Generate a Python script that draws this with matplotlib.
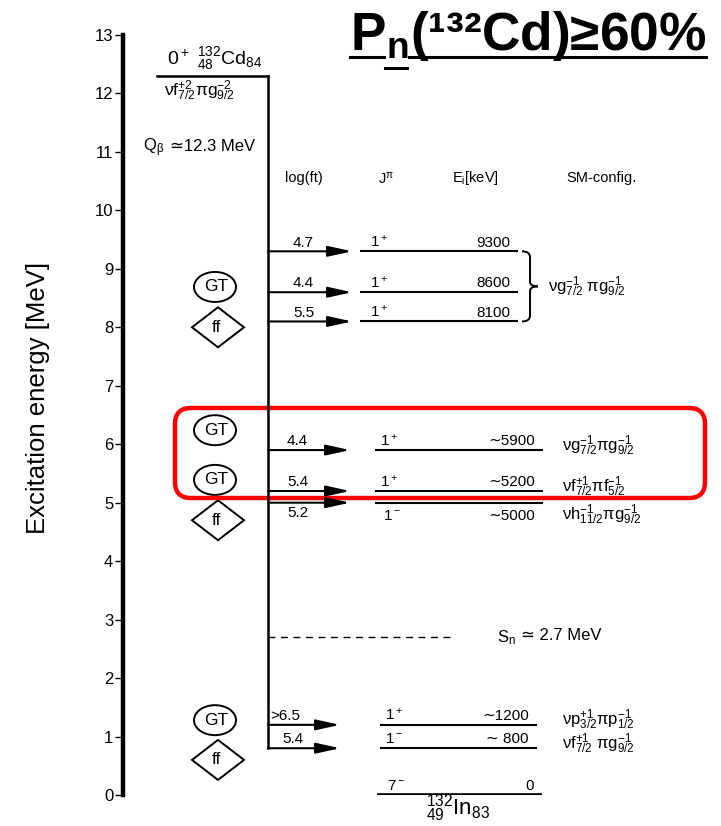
import matplotlib.pyplot as plt
from matplotlib.patches import Ellipse, Polygon, FancyBboxPatch, PathPatch
from matplotlib.path import Path
from matplotlib.lines import Line2D

plt.rcParams['font.family'] = ['Liberation Sans', 'DejaVu Sans']
plt.rcParams['mathtext.fontset'] = 'custom'
plt.rcParams['mathtext.rm'] = 'Liberation Sans'
plt.rcParams['mathtext.default'] = 'regular'

# 132Cd -> 132In beta decay
q_beta = 12.3   # MeV
s_n = 2.7       # MeV
level_kev = [9300, 8600, 8100, 5900, 5200, 5000, 1200, 800, 0]
approx = [False, False, False, True, True, True, True, True, False]
spin = ['1$^+$', '1$^+$', '1$^+$', '1$^+$', '1$^+$', '1$^-$', '1$^+$', '1$^-$', '7$^-$']
log_ft = ['4.7', '4.4', '5.5', '4.4', '5.4', '5.2', '>6.5', '5.4', None]
sm_config = [None, None, None,
             'νg$_{7/2}^{-1}$πg$_{9/2}^{-1}$',
             'νf$_{7/2}^{+1}$πf$_{5/2}^{-1}$',
             'νh$_{11/2}^{-1}$πg$_{9/2}^{-1}$',
             'νp$_{3/2}^{+1}$πp$_{1/2}^{-1}$',
             'νf$_{7/2}^{+1}$ πg$_{9/2}^{-1}$',
             None]
group_config = 'νg$_{7/2}^{-1}$ πg$_{9/2}^{-1}$'   # shared by the three top levels
parent_config = 'νf$_{7/2}^{+2}$πg$_{9/2}^{-2}$'
yticks = list(range(0, 14))

# transition type badges (kind, energy in MeV)
badges = [('GT', 8.69), ('ff', 8.0), ('GT', 6.24), ('GT', 5.39), ('ff', 4.70),
          ('GT', 1.28), ('ff', 0.60)]

# layout per level: arrow tip, level line start/end, spin x, label side
x_feed = 268
tip = [352, 352, 352, 350, 350, 350, 340, 340, None]
lx0 = [360, 360, 360, 375, 375, 375, 380, 380, 377]
lx1 = [518, 518, 518, 543, 543, 543, 537, 537, 542]
spin_x = [370, 370, 370, 380, 380, 383, 385, 385, 387]
ft_x = [293, 293, 293, 287, 287, 287, 270, 282, None]
below = [False, False, False, False, False, True, False, False, False]

fig = plt.figure(figsize=(7.21, 8.26), dpi=100)
ax = fig.add_axes([123 / 721, 31 / 826, 598 / 721, 760 / 826])
ax.set_xlim(123, 721)
ax.set_ylim(0, 13)
for s in ['top', 'right', 'bottom']:
    ax.spines[s].set_visible(False)
ax.spines['left'].set_linewidth(3.2)
ax.set_xticks([])
ax.set_yticks(yticks)
ax.tick_params(axis='y', direction='out', length=6, width=1, pad=1, labelsize=12)

fig.text(38 / 721, 1 - 398 / 826, 'Excitation energy [MeV]', rotation=90,
         ha='center', va='center', fontsize=18.5)

# parent state and feeding line
ax.plot([157, x_feed], [q_beta, q_beta], color='black', lw=1.8, clip_on=False)
ax.plot([x_feed, x_feed], [q_beta, level_kev[-2] / 1000], color='black', lw=1.8)
ax.text(215, q_beta + 0.06, '0$^+$ ${}^{132}_{48}$Cd$_{84}$', ha='center', va='bottom', fontsize=14)
ax.text(200, q_beta - 0.05, parent_config, ha='center', va='top', fontsize=12.5)
ax.text(143, 11.08, 'Q$_{\\beta}$', ha='left', va='center', fontsize=12)
ax.text(170, 11.1, '≃12.3 MeV', ha='left', va='center', fontsize=12)

# column headers
hy = 10.55
ax.text(285, hy, 'log(ft)', ha='left', va='center', fontsize=10.5)
ax.text(378, hy, 'J$^{π}$', ha='left', va='center', fontsize=10.5)
ax.text(452, hy, 'E$_i$[keV]', ha='left', va='center', fontsize=10.5)
ax.text(566, hy, 'SM-config.', ha='left', va='center', fontsize=10.5)

for i, kev in enumerate(level_kev):
    e = kev / 1000
    lw = 2.6 if kev == 0 else 1.5
    ax.plot([lx0[i], lx1[i]], [e, e], color='black', lw=lw, solid_capstyle='butt')
    if tip[i] is not None:
        ax.annotate('', xy=(tip[i], e), xytext=(x_feed, e),
                    arrowprops=dict(arrowstyle='-|>,head_length=1.45,head_width=0.32',
                                    mutation_scale=10, color='black', lw=1.5,
                                    shrinkA=0, shrinkB=0))
    elabel = ('∼' + ('%d' % kev if kev >= 1000 else ' %d' % kev)) if approx[i] else '%d' % kev
    if below[i]:
        dy, va = -0.1, 'top'
    else:
        dy, va = 0.03, 'bottom'
    ax.text(spin_x[i], e + dy, spin[i], ha='left', va=va, fontsize=11)
    ax.text(lx1[i] - 8, e + dy, elabel, ha='right', va=va, fontsize=11)
    if log_ft[i] is not None:
        fdy, fva = (-0.05, 'top') if below[i] else (0.03, 'bottom')
        ax.text(ft_x[i], e + fdy, log_ft[i], ha='left', va=fva, fontsize=11)
    if sm_config[i] is not None:
        sy = e - 0.2 if below[i] else e + 0.08
        ax.text(562, sy, sm_config[i], ha='left', va='center', fontsize=12)

ax.text(458, -0.22, '${}^{132}_{49}$In$_{83}$', ha='center', va='center', fontsize=16)

# brace for the top three levels
e_top, e_bot = level_kev[0] / 1000, level_kev[2] / 1000
e_mid = level_kev[1] / 1000 + 0.1
bx, bc = 522, 530
verts = [(bx, e_top), (bc, e_top), (bc, e_top - 0.1), (bc, e_mid + 0.08),
         (bc, e_mid), (538, e_mid), (bc, e_mid), (bc, e_mid - 0.08),
         (bc, e_bot + 0.1), (bc, e_bot), (bx, e_bot)]
codes = [Path.MOVETO, Path.CURVE3, Path.CURVE3, Path.LINETO,
         Path.CURVE3, Path.CURVE3, Path.CURVE3, Path.CURVE3,
         Path.LINETO, Path.CURVE3, Path.CURVE3]
ax.add_patch(PathPatch(Path(verts, codes), fill=False, lw=1.4, color='black'))
ax.text(548, e_mid, group_config, ha='left', va='center', fontsize=12)

# neutron separation energy
ax.plot([x_feed, 455], [s_n, s_n], color='black', lw=1.0, ls=(0, (5, 4)))
ax.text(497, s_n, 'S$_n$', ha='left', va='center', fontsize=12)
ax.text(521, s_n + 0.02, '≃ 2.7 MeV', ha='left', va='center', fontsize=12)

# GT / ff badges
px = 760 / 13   # pixels per MeV
for kind, e in badges:
    if kind == 'GT':
        ax.add_patch(Ellipse((215, e), 42, 30 / px, fill=False, lw=1.4, color='black'))
    else:
        ax.add_patch(Polygon([(192, e), (218, e + 20 / px), (244, e), (218, e - 20 / px)],
                             closed=True, fill=False, lw=1.4, color='black', clip_on=False))
    ax.text(216, e, kind, ha='center', va='center', fontsize=12.5, clip_on=False)

# highlighted GT region
ax.add_patch(FancyBboxPatch((175, 5.08), 530, 1.54,
                            boxstyle='round,pad=0,rounding_size=16',
                            mutation_aspect=1 / px, fill=False,
                            ec='#ff0000', lw=3.2, clip_on=False))

# title with hand-drawn underline
fig.text(350 / 721, 1 - 50 / 826, 'P$_{n}$(¹³²Cd)≥60%', ha='left', va='baseline',
         fontsize=38.3, fontweight='bold')
for x0, x1, y in [(350, 384, 57), (385, 407, 68), (409, 706, 57)]:
    fig.add_artist(Line2D([x0 / 721, x1 / 721], [1 - y / 826, 1 - y / 826],
                          color='black', lw=2.2, transform=fig.transFigure))

fig.savefig('out.png', dpi=100)
